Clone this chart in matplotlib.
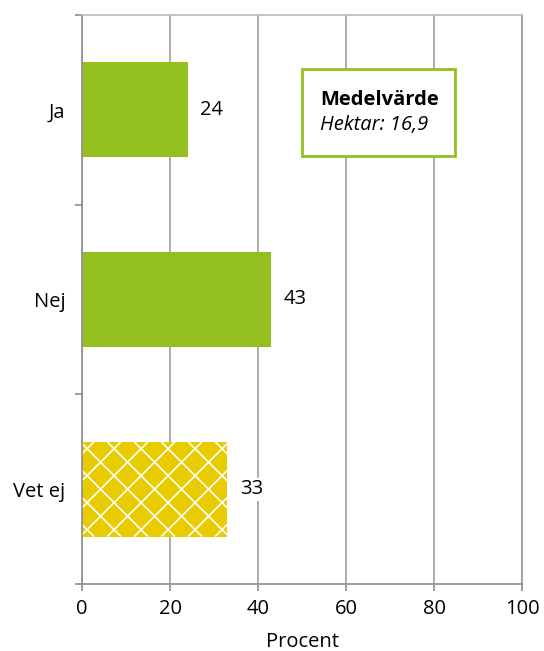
import numpy as np
import matplotlib.pyplot as plt
from matplotlib.patches import Rectangle
from matplotlib.collections import LineCollection
from matplotlib.transforms import IdentityTransform

plt.rcParams["font.family"] = ["Open Sans", "DejaVu Sans"]

categories = ["Ja", "Nej", "Vet ej"]
values = [24, 43, 33]
bar_colors = ["#93C01F", "#93C01F", "#E8CC00"]
hatched = [False, False, True]
xticks = [0, 20, 40, 60, 80, 100]

fs = 14.5

fig = plt.figure(figsize=(5.44, 6.51), dpi=100)
ax = fig.add_axes([82/544, 1-584/651, 440/544, 569/651])

y = np.arange(len(categories))
bars = ax.barh(y, values, height=0.5, color=bar_colors, zorder=2)

ax.set_xlim(0, 100)
ax.set_ylim(2.5, -0.5)
ax.set_xticks(xticks)
ax.set_xticklabels([str(t) for t in xticks], fontsize=fs)
ax.set_yticks(y)
ax.set_yticklabels(categories, fontsize=fs)
ax.set_yticks([-0.5, 0.5, 1.5, 2.5], minor=True)
ax.tick_params(axis="y", which="major", length=0, pad=12)
ax.tick_params(axis="y", which="minor", length=5, width=1.2, color="#8c8c8c")
ax.tick_params(axis="x", length=5, width=1.2, color="#8c8c8c", pad=6)
ax.set_xlabel("Procent", fontsize=fs, labelpad=9)

ax.xaxis.grid(True, color="#999999", linewidth=1.1, zorder=0)
ax.set_axisbelow(True)
ax.spines["left"].set_color("#8c8c8c")
ax.spines["bottom"].set_color("#8c8c8c")
ax.spines["right"].set_color("#999999")
ax.spines["top"].set_color("#bbbbbb")
for s in ax.spines.values():
    s.set_linewidth(1.2)

# value labels next to each bar
for yi, v in zip(y, values):
    ax.text(v + 2.9, yi, str(v), va="center", ha="left", fontsize=fs,
            bbox=dict(facecolor="white", edgecolor="none", pad=1), zorder=3)


def clip_seg(p, q, xlo, xhi, ylo, yhi):
    # Liang-Barsky clipping of segment p-q to a rectangle
    dx, dy = q[0] - p[0], q[1] - p[1]
    t0, t1 = 0.0, 1.0
    for pk, qk in ((-dx, p[0] - xlo), (dx, xhi - p[0]),
                   (-dy, p[1] - ylo), (dy, yhi - p[1])):
        if pk == 0:
            if qk < 0:
                return None
            continue
        r = qk / pk
        if pk < 0:
            t0 = max(t0, r)
        else:
            t1 = min(t1, r)
    if t0 >= t1:
        return None
    return [(p[0] + t0 * dx, p[1] + t0 * dy), (p[0] + t1 * dx, p[1] + t1 * dy)]


# white cross hatch on the "Vet ej" bar, drawn in pixel space
spacing = 27
for bar, h in zip(bars, hatched):
    if not h:
        continue
    (x0, y0), (x1, y1) = ax.transData.transform([[bar.get_x(), bar.get_y()],
                                                 [bar.get_x() + bar.get_width(),
                                                  bar.get_y() + bar.get_height()]])
    xlo, xhi = min(x0, x1), max(x0, x1)
    ylo, yhi = min(y0, y1), max(y0, y1)
    hgt = yhi - ylo
    segs = []
    for k in np.arange(xlo - hgt - spacing + 12, xhi + spacing, spacing):
        for s in (clip_seg((k, ylo), (k + hgt, yhi), xlo, xhi, ylo, yhi),
                  clip_seg((k + hgt, ylo), (k, yhi), xlo, xhi, ylo, yhi)):
            if s is not None:
                segs.append(s)
    lc = LineCollection(segs, colors="white", linewidths=1.2,
                        transform=IdentityTransform(), zorder=2.5)
    ax.add_collection(lc)

# mean value box
ax.add_patch(Rectangle((0.5, 0.752), 0.348, 0.153, transform=ax.transAxes,
                       facecolor="white", edgecolor="#93C01F", linewidth=2, zorder=4))
ax.text(0.541, 0.851, "Medelvärde", transform=ax.transAxes, fontsize=fs,
        fontweight="bold", va="center", ha="left", zorder=5)
ax.text(0.541, 0.806, "Hektar: 16,9", transform=ax.transAxes, fontsize=fs,
        style="italic", va="center", ha="left", zorder=5)

fig.savefig("out.png", dpi=100)
